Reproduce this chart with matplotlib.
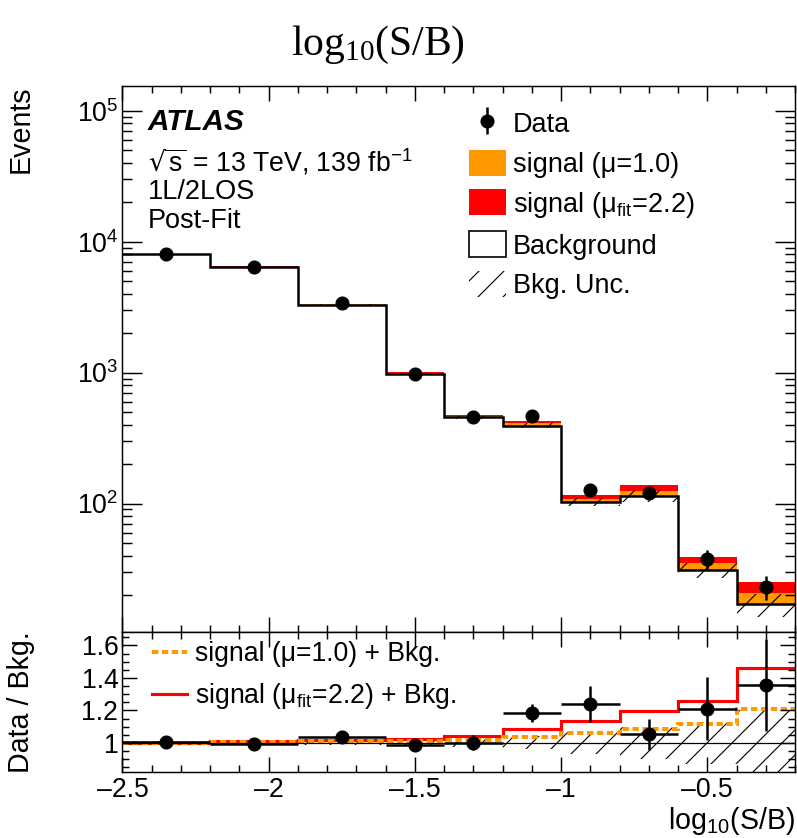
import numpy as np
import matplotlib
matplotlib.use('Agg')
import matplotlib.pyplot as plt
from matplotlib.patches import Patch
from matplotlib.lines import Line2D
from matplotlib.ticker import MultipleLocator, LogLocator, FuncFormatter, NullFormatter

plt.rcParams['font.family'] = ['Liberation Sans', 'DejaVu Sans']
plt.rcParams['mathtext.default'] = 'regular'
plt.rcParams['hatch.linewidth'] = 1.1

# binning in log10(S/B)
edges = np.array([-2.5, -2.2, -1.9, -1.6, -1.4, -1.2, -1.0, -0.8, -0.6, -0.4, -0.2])
# post-fit background, relative bkg uncertainty, signal (mu=1) and data
bkg = np.array([8010, 6410, 3290, 980, 455, 394, 102.5, 115, 31.2, 17.1])
bkg_unc = np.array([0.01, 0.01, 0.015, 0.02, 0.025, 0.04, 0.07, 0.10, 0.13, 0.20])
signal = np.array([8, 28, 30, 11, 8.5, 15.5, 6.4, 10.2, 3.7, 3.6])
mu_fit = 2.2
data = np.array([8070, 6370, 3410, 970, 455, 466, 127, 121, 37.8, 23.2])
data_err = np.array([90, 80, 58, 31, 21, 22, 11.3, 11, 6.1, 4.8])

ORANGE = '#ff9900'
RED = '#ff0000'

centers = 0.5 * (edges[:-1] + edges[1:])
halfw = 0.5 * (edges[1:] - edges[:-1])

DPI = 75
fig = plt.figure(figsize=(797 / DPI, 838 / DPI), dpi=DPI)
ax = fig.add_axes([0.1537, 0.2462, 0.8438, 0.6515])
rax = fig.add_axes([0.1537, 0.0791, 0.8438, 0.1671], sharex=ax)

# ---- main panel
ax.stairs(bkg + mu_fit * signal, edges, baseline=1, fill=True, color=RED, lw=0)
ax.stairs(bkg + signal, edges, baseline=1, fill=True, color=ORANGE, lw=0)
ax.stairs(bkg, edges, baseline=1, fill=True, color='white', lw=0)
ax.stairs(bkg * (1 + bkg_unc), edges, baseline=bkg * (1 - bkg_unc), fill=True,
          facecolor='none', edgecolor='black', hatch='/', lw=0)
ax.stairs(bkg, edges, baseline=None, color='black', lw=2.4)
dat = ax.errorbar(centers, data, yerr=data_err, fmt='o', color='black', ms=12.5,
                  elinewidth=2.4, capsize=0, zorder=5)

ax.set_yscale('log')
ax.set_xlim(-2.5, -0.2)
ax.set_ylim(10.5, 1.55e5)
ax.yaxis.set_major_locator(LogLocator(base=10, numticks=10))
ax.yaxis.set_minor_locator(LogLocator(base=10, subs=np.arange(2, 10), numticks=10))
ax.yaxis.set_minor_formatter(NullFormatter())

ax.text(0.038, 0.934, 'ATLAS', transform=ax.transAxes, fontsize=28.5,
        fontweight='bold', fontstyle='italic', va='center')
ax.text(0.038, 0.860, r'$\sqrt{s}$ = 13 TeV, 139 fb$^{-1}$', transform=ax.transAxes,
        fontsize=25.5, va='center')
ax.text(0.038, 0.806, '1L/2LOS', transform=ax.transAxes, fontsize=26, va='center')
ax.text(0.038, 0.752, 'Post-Fit', transform=ax.transAxes, fontsize=26, va='center')

handles = [dat,
           Patch(facecolor=ORANGE, edgecolor='none'),
           Patch(facecolor=RED, edgecolor='none'),
           Patch(facecolor='white', edgecolor='black', lw=1.6),
           Patch(facecolor='none', edgecolor='black', hatch='/', lw=0)]
labels = ['Data', 'signal (μ=1.0)', r'signal (μ$_{fit}$=2.2)', 'Background', 'Bkg. Unc.']
ax.legend(handles, labels, loc='upper left', bbox_to_anchor=(0.515, 0.956),
          frameon=False, fontsize=26, handlelength=1.37, handleheight=1.1,
          labelspacing=0.43, handletextpad=0.26, borderpad=0, borderaxespad=0)

ax.set_ylabel('Events', loc='top', fontsize=27.5)
ax.yaxis.set_label_coords(-0.13, 1.0)

# ---- ratio panel
ratio_sig1 = (bkg + signal) / bkg
ratio_fit = (bkg + mu_fit * signal) / bkg
rax.stairs(1 + bkg_unc, edges, baseline=1 - bkg_unc, fill=True,
           facecolor='none', edgecolor='black', hatch='/', lw=0)
rax.axhline(1, color='black', lw=1.2)
rax.stairs(ratio_fit, edges, baseline=None, color=RED, lw=3)
rax.stairs(ratio_sig1, edges, baseline=None, color=ORANGE, lw=3.8, ls=(0, (1.6, 0.9)))
rax.errorbar(centers, data / bkg, xerr=halfw, yerr=data_err / bkg, fmt='o',
             color='black', ms=12.5, elinewidth=2.4, capsize=0, zorder=5)
rax.set_ylim(0.823, 1.685)

rhandles = [Line2D([], [], color=ORANGE, lw=3.8, ls=(0, (1.6, 0.9))),
            Line2D([], [], color=RED, lw=3)]
rlabels = ['signal (μ=1.0) + Bkg.', r'signal (μ$_{fit}$=2.2) + Bkg.']
rax.legend(rhandles, rlabels, loc='upper left', bbox_to_anchor=(0.044, 0.931),
           frameon=False, fontsize=25.5, handlelength=1.3, handletextpad=0.3,
           labelspacing=0.52, borderpad=0, borderaxespad=0)

rax.set_ylabel('Data / Bkg.', fontsize=27.5)
rax.yaxis.set_label_coords(-0.13, 0.5)
rax.set_xlabel(r'log$_{10}$(S/B)', loc='right', fontsize=27.5, labelpad=2)

rax.yaxis.set_major_locator(MultipleLocator(0.2))
rax.yaxis.set_minor_locator(MultipleLocator(0.05))
rax.yaxis.set_major_formatter(FuncFormatter(lambda v, p: f'{v:g}'))
rax.xaxis.set_major_formatter(FuncFormatter(lambda v, p: f'{v:g}'.replace('-', '\u2013')))

for a in (ax, rax):
    a.xaxis.set_major_locator(MultipleLocator(0.5))
    a.xaxis.set_minor_locator(MultipleLocator(0.1))
    a.tick_params(which='both', direction='in', top=True, right=True, width=1.4,
                  labelsize=25.5)
    a.tick_params(which='major', length=14)
    a.tick_params(which='minor', length=7)
    a.tick_params(axis='y', pad=4)
    a.tick_params(axis='x', pad=5)
    for s in a.spines.values():
        s.set_linewidth(1.4)
ax.tick_params(axis='y', which='major', length=19)
ax.tick_params(axis='y', which='minor', length=10)
ax.tick_params(labelbottom=False)

fig.text(378 / 797, 1 - 45 / 838, r'log$_{10}$(S/B)', fontsize=40,
         family='Liberation Serif', ha='center', va='center')

fig.savefig('out.png', dpi=DPI)
